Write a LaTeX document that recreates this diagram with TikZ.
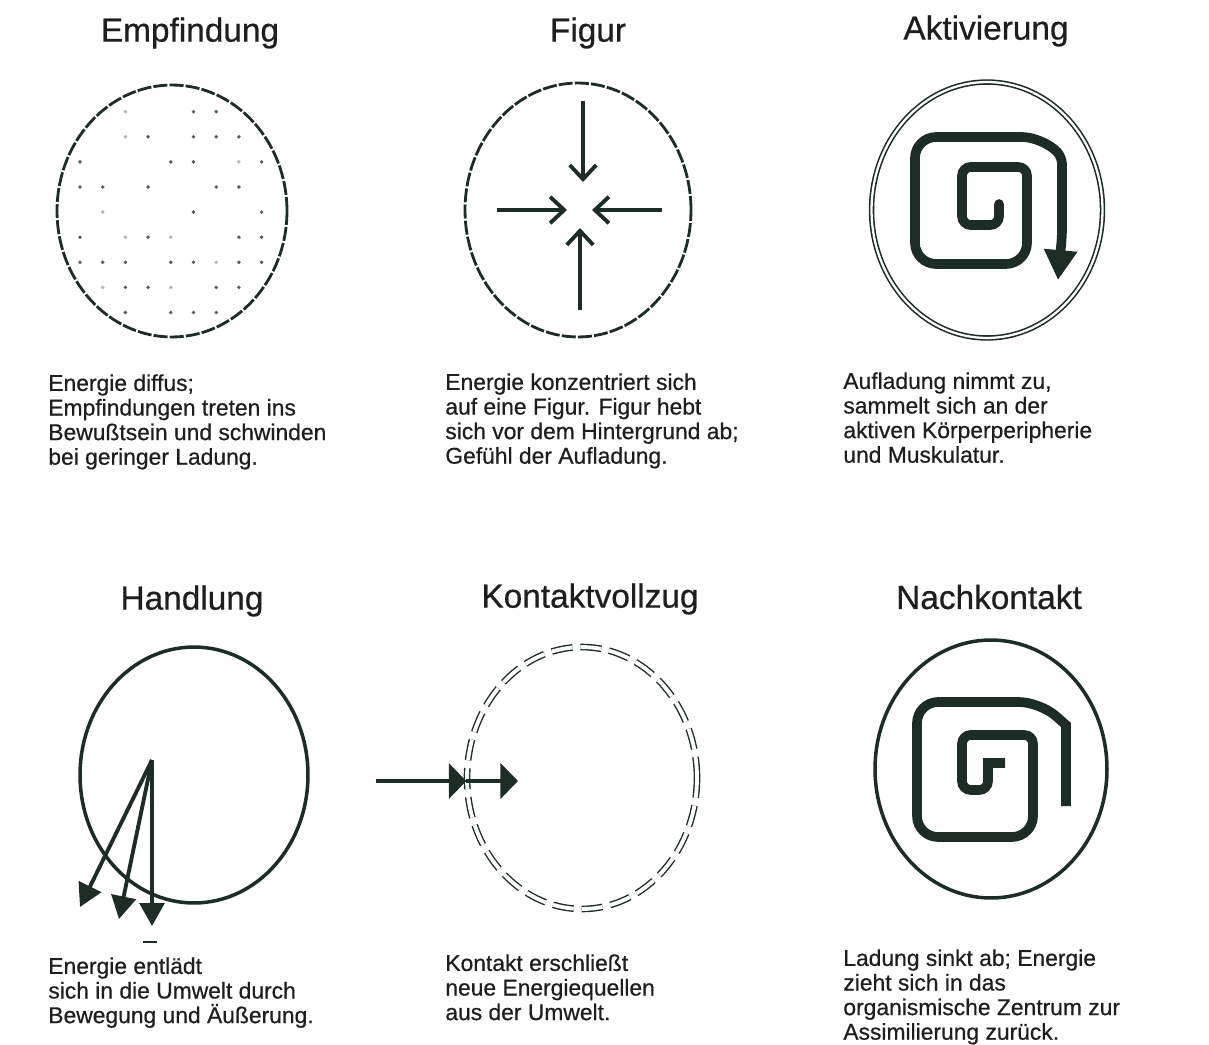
\documentclass[tikz,border=0pt]{standalone}
\definecolor{inkgreen}{RGB}{30,44,38}
\definecolor{inkgray}{RGB}{30,30,30}
\definecolor{dotgray}{RGB}{90,90,90}
\definecolor{faintgray}{RGB}{180,180,180}
\usepackage{fontspec}
\setmainfont{Liberation Sans}
\newfontfamily\heavysans[FakeBold=0.6]{Liberation Sans}
\usepackage{tikz}
\usetikzlibrary{shapes.geometric,arrows.meta,positioning}

\begin{document}
\begin{tikzpicture}[x=0.02cm, y=-0.02cm,
    titletext/.style={font=\heavysans\fontsize{19}{23}\selectfont, text=inkgray, inner sep=0pt},
    captiontext/.style={font=\heavysans\fontsize{13}{14}\selectfont, text=inkgray, align=left, anchor=north west, inner sep=0pt},
    ring/.style={ellipse, draw=inkgreen, inner sep=0pt, minimum width=#1},
    brokenring/.style={line width=1.6pt, dash pattern=on 8pt off 1.2pt},
    doublering/.style={line width=0.9pt, double=white, double distance=1.3pt},
    dashedring/.style={line width=0.8pt, double=white, double distance=2.2pt, dash pattern=on 12pt off 4.5pt},
    heavy/.style={draw=inkgreen, line width=2.2pt},
    coil/.style={draw=inkgreen, line width=5.5pt, line cap=round}]
\useasboundingbox (0,0) rectangle (1209,1044);

% titles
\node[titletext] (tEmp) at (190,33) {Empfindung};
\node[titletext] (tFig) at (588,33) {Figur};
\node[titletext] (tAkt) at (986,31) {Aktivierung};
\node[titletext] (tHan) at (192,601) {Handlung};
\node[titletext] (tKon) at (590,599) {Kontaktvollzug};
\node[titletext] (tNach) at (989,597) {Nachkontakt};

% Empfindung
\node[ring=4.6cm, minimum height=5.04cm, brokenring] (emp) at (172,211) {};
\foreach \c/\r in {5/0,6/0, 3/1,5/1,6/1,7/1, 0/2,4/2,5/2,8/2, 0/3,1/3,3/3,6/3,7/3,
    5/4,8/4, 0/5,3/5,7/5,8/5, 0/6,1/6,2/6,4/6,5/6,7/6,8/6, 2/7,3/7,6/7,7/7, 2/8,4/8,5/8,6/8}
  \fill[dotgray] (80+22.7*\c, 111.7+25.1*\r) circle[radius=1.1pt];
\foreach \c/\r in {2/0, 2/1, 7/2, 1/4, 2/5,4/5, 6/6, 1/7,4/7}
  \fill[faintgray] (80+22.7*\c, 111.7+25.1*\r) circle[radius=1.1pt];

% Figur
\node[ring=4.52cm, minimum height=5.08cm, brokenring] (fig) at (578,210) {};
\coordinate (fN0) at (583,101); \coordinate (fN1) at (583,182);
\coordinate (fW0) at (497,210); \coordinate (fW1) at (567,210);
\coordinate (fE0) at (662,210); \coordinate (fE1) at (592,210);
\coordinate (fS0) at (580,310); \coordinate (fS1) at (580,228);
\foreach \a in {N,W,E,S}
  \draw[heavy, -{Straight Barb[length=8pt, width=15pt]}] (f\a0) -- (f\a1);

% Aktivierung
\node[ring=4.62cm, minimum height=5.12cm, doublering] (akt) at (987,210) {};
\coordinate (aIn) at (999,204);
\coordinate (aTip) at (1058,280);
\draw[coil, -{Triangle[length=17pt, width=18pt]}] (aIn) [rounded corners=5pt] -- (999,225) -- (962,225)
  -- (962,167) -- (1027,167) [rounded corners=12pt] -- (1027,264) -- (915,264) -- (915,137)
  -- (1043,137) [rounded corners=4pt] -- (1062,157) -- (1062,235) -- (aTip);

% Handlung
\node[ring=4.56cm, minimum height=5.12cm, line width=2pt] (han) at (194,775) {};
\coordinate (hApex) at (152,760);
\coordinate (hTipA) at (80,907);
\coordinate (hTipB) at (119,919);
\coordinate (hTipC) at (152,926);
\foreach \t in {A,B,C}
  \draw[heavy, -{Triangle[length=13pt, width=14pt]}] (hApex) -- (hTip\t);
\coordinate (hMark) at (150,942);
\draw[inkgreen, line width=1pt] ([xshift=-4]hMark) -- ([xshift=4]hMark);

% Kontaktvollzug
\node[ring=4.6cm, minimum height=5.24cm, dashedring] (kon) at (582,778) {};
\coordinate (kIn) at (376,781);
\coordinate (kOut) at (518,781);
\draw[heavy, -{Triangle[length=10pt, width=20pt]}] (kIn) -- (kIn -| kon.west);
\draw[heavy, -{Triangle[length=10pt, width=20pt]}] (kIn -| kon.west) -- (kOut);

% Nachkontakt
\node[ring=4.64cm, minimum height=5.16cm, line width=2pt] (nach) at (991,769) {};
\coordinate (nIn) at (1005,763);
\coordinate (nEnd) at (1066,806);
\draw[coil, line cap=butt] (nIn) -- (988,763) [rounded corners=5pt] -- (988,790) -- (962,790)
  -- (962,735) -- (1033,735) [rounded corners=12pt] -- (1033,837) -- (917,837) -- (917,702)
  -- (1040,702) [sharp corners] -- (1066,725) -- (nEnd);

% captions
\node[captiontext] (cEmp) at (48,374) {Energie diffus;\\Empfindungen treten ins\\Bewußtsein und schwinden\\bei geringer Ladung.};
\node[captiontext] (cFig) at (445,373) {Energie konzentriert sich\\auf eine Figur. Figur hebt\\sich vor dem Hintergrund ab;\\Gefühl der Aufladung.};
\node[captiontext] (cAkt) at (843,372) {Aufladung nimmt zu,\\sammelt sich an der\\aktiven Körperperipherie\\und Muskulatur.};
\node[captiontext] (cHan) at (48,957) {Energie entlädt\\sich in die Umwelt durch\\Bewegung und Äußerung.};
\node[captiontext] (cKon) at (445,954) {Kontakt erschließt\\neue Energiequellen\\aus der Umwelt.};
\node[captiontext] (cNach) at (843,949) {Ladung sinkt ab; Energie\\zieht sich in das\\organismische Zentrum zur\\Assimilierung zurück.};
\end{tikzpicture}
\end{document}
